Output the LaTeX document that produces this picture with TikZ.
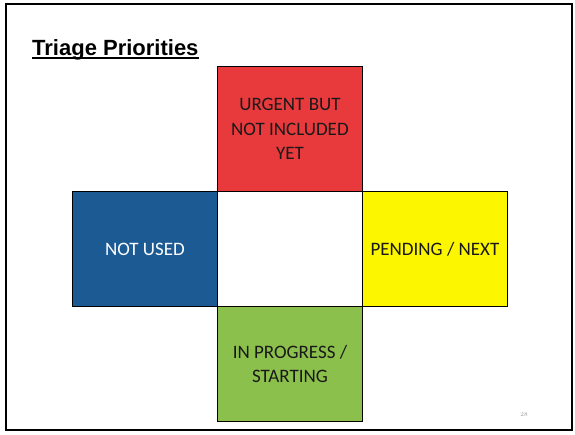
\documentclass[tikz,border=0pt]{standalone}
\usepackage{fontspec}
\newfontfamily\titlefont{Liberation Sans}
\newfontfamily\boxfont{Carlito}
\usetikzlibrary{calc}

\definecolor{urgentred}{RGB}{232,58,60}
\definecolor{unusedblue}{RGB}{28,90,148}
\definecolor{pendingyellow}{RGB}{252,246,0}
\definecolor{progressgreen}{RGB}{140,192,76}

\begin{document}
\begin{tikzpicture}[x=1pt, y=-1pt,
    box/.style={draw=black, line width=0.9pt, anchor=north west, inner sep=0pt,
        minimum width=145pt, align=center, text=black!90,
        font={\boxfont\fontsize{19}{24.5}\selectfont}}]
    \useasboundingbox (0, 0) rectangle (575, 434);
    \draw[line width=2pt] (6, 4) rectangle (572, 430);

    \node[anchor=base west, inner sep=0pt, font={\titlefont\bfseries\fontsize{22}{26}\selectfont}] (title) at (32, 55) {Triage Priorities};
    \draw[line width=1.6pt] ($(title.base west)+(0, 3)$) -- ($(title.base east)+(0, 3)$);

    \node[box, fill=urgentred, minimum height=125pt] (urgent) at (217, 66) {URGENT BUT\\NOT INCLUDED\\YET};
    \node[box, fill=unusedblue, minimum height=115pt, text=white] (notused) at (72, 191) {NOT USED};
    \node[box, fill=white, minimum height=115pt] (middle) at (217, 191) {};
    \node[box, fill=pendingyellow, minimum height=115pt] (pending) at (362, 191) {PENDING / NEXT};
    \node[box, fill=progressgreen, minimum height=115pt] (inprogress) at (217, 306) {IN PROGRESS /\\STARTING};

    \node[text=black!40, font=\fontsize{6}{7}\selectfont] (pagenum) at (524, 415) {28};
\end{tikzpicture}
\end{document}
